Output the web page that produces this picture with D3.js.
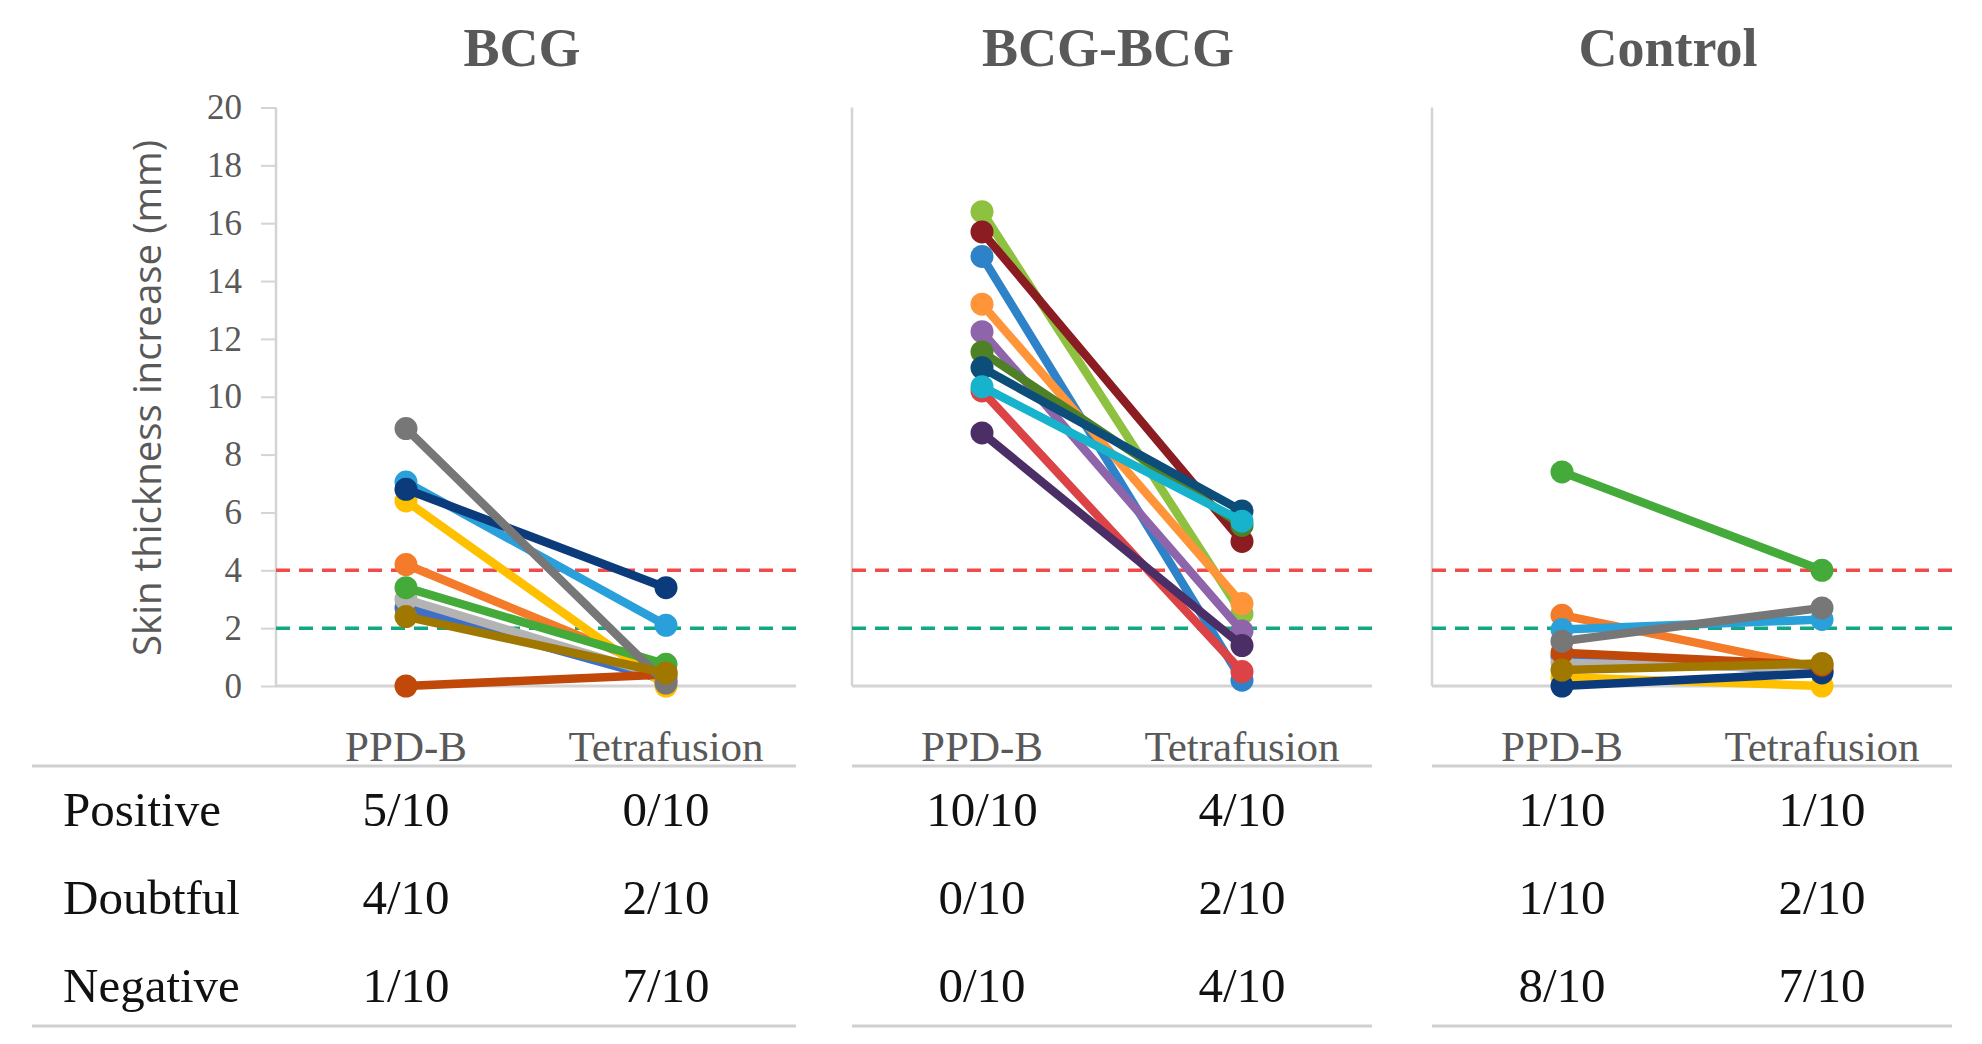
<!DOCTYPE html>
<html>
<head>
<meta charset="utf-8">
<script src="https://cdn.jsdelivr.net/npm/d3@7"></script>
<style>
  body { margin: 0; background: #fff; }
  svg { display: block; }
</style>
</head>
<body>
<div id="chart"></div>
<script>
(function(){
  // Groups, x categories and table row labels.
  const groups = ['BCG', 'BCG-BCG', 'Control'];
  const categories = ['PPD-B', 'Tetrafusion'];
  const tableRows = ['Positive', 'Doubtful', 'Negative'];
  const yTicks = [0, 2, 4, 6, 8, 10, 12, 14, 16, 18, 20];
  const positiveCut = 4;
  const doubtfulCut = 2;

  // BCG group: one animal per entry, PPD-B and Tetrafusion readings (mm).
  const bcgPpd    = [2.7, 4.2, 3.0, 6.4, 7.05, 3.4, 6.8, 0.0, 8.9, 2.4];
  const bcgTetra  = [0.2, 0.5, 0.3, 0.0, 2.1, 0.75, 3.4, 0.4, 0.1, 0.45];
  const bcgColors = ['#3f6fc6', '#f47b2a', '#b3b3b3', '#ffc000', '#2aa0da', '#44aa3a', '#0b3b7a', '#c0490a', '#777777', '#a07800'];

  // BCG-BCG group.
  const boostPpd    = [16.4, 15.7, 14.85, 10.2, 13.2, 12.25, 11.55, 11.0, 10.35, 8.75];
  const boostTetra  = [2.5, 5.0, 0.2, 0.5, 2.85, 1.9, 5.55, 6.05, 5.7, 1.4];
  const boostColors = ['#8dc13f', '#8a1c22', '#2e83c8', '#db4346', '#ff9438', '#8e64aa', '#4e8026', '#0c4d7a', '#17b3cd', '#4b2e66'];

  // Control group.
  const ctrlPpd    = [1.0, 2.45, 0.8, 0.3, 1.95, 7.4, 0.0, 1.15, 1.55, 0.55];
  const ctrlTetra  = [0.5, 0.6, 0.6, 0.0, 2.3, 4.0, 0.45, 0.72, 2.7, 0.78];
  const ctrlColors = bcgColors;

  // Summary table, one [PPD-B, Tetrafusion] pair per row.
  const bcgTable   = [['5/10', '0/10'], ['4/10', '2/10'], ['1/10', '7/10']];
  const boostTable = [['10/10', '4/10'], ['0/10', '2/10'], ['0/10', '4/10']];
  const ctrlTable  = [['1/10', '1/10'], ['1/10', '2/10'], ['8/10', '7/10']];

  const panels = [
    {title: groups[0], ppd: bcgPpd, tetra: bcgTetra, colors: bcgColors, table: bcgTable},
    {title: groups[1], ppd: boostPpd, tetra: boostTetra, colors: boostColors, table: boostTable},
    {title: groups[2], ppd: ctrlPpd, tetra: ctrlTetra, colors: ctrlColors, table: ctrlTable}
  ];

  const width = 1982, height = 1044;
  const serif = '"Liberation Serif", "DejaVu Serif", serif';
  const grey = '#595959';
  const axisGrey = '#d4d4d4';

  const svg = d3.select('#chart').append('svg')
    .attr('width', width).attr('height', height);

  // Layout of the three small multiples.
  const panelStarts = [276, 852, 1432];
  const panelWidth = 520;
  const titleX = [522, 1108, 1668];
  const plotTop = 107.5, plotBottom = 686;
  const rowY = [809, 897, 985];

  const y = d3.scaleLinear().domain([0, 20]).range([plotBottom, plotTop]);
  const x = d3.scalePoint().domain(categories).range([0, panelWidth]).padding(0.5);

  // Y axis with ticks only on the first panel.
  const yAxis = svg.append('g')
    .attr('transform', `translate(${panelStarts[0]},0)`)
    .call(d3.axisLeft(y).tickValues(yTicks).tickSize(15).tickPadding(19));
  yAxis.select('.domain').remove();
  yAxis.selectAll('.tick line').attr('stroke', axisGrey).attr('stroke-width', 2);
  yAxis.selectAll('.tick text')
    .attr('fill', grey)
    .style('font-family', serif)
    .style('font-size', '35px');

  svg.append('text')
    .attr('transform', `translate(148,398) rotate(-90)`)
    .attr('text-anchor', 'middle')
    .attr('dy', '0.35em')
    .attr('fill', grey)
    .attr('textLength', 516)
    .attr('lengthAdjust', 'spacingAndGlyphs')
    .style('font-family', '"Open Sans", "Noto Sans", sans-serif')
    .style('font-size', '38px')
    .text('Skin thickness increase (mm)');

  panels.forEach((p, i) => {
    const g = svg.append('g').attr('transform', `translate(${panelStarts[i]},0)`);

    // Axis frame: vertical line and baseline.
    g.append('line')
      .attr('x1', 0).attr('x2', 0)
      .attr('y1', y(20)).attr('y2', y(0))
      .attr('stroke', axisGrey).attr('stroke-width', 2.5);
    g.append('line')
      .attr('x1', 0).attr('x2', panelWidth)
      .attr('y1', y(0)).attr('y2', y(0))
      .attr('stroke', axisGrey).attr('stroke-width', 3);

    // Positive / doubtful cut-off lines.
    [[positiveCut, '#f04a4a'], [doubtfulCut, '#12a883']].forEach(([v, c]) => {
      g.append('line')
        .attr('x1', 0).attr('x2', panelWidth)
        .attr('y1', y(v)).attr('y2', y(v))
        .attr('stroke', c).attr('stroke-width', 3.5)
        .attr('stroke-dasharray', '14,9');
    });

    // Paired readings per animal.
    const rows = p.ppd.map((v, k) => ({a: v, b: p.tetra[k], color: p.colors[k]}));
    const series = g.selectAll('g.series').data(rows).join('g').attr('class', 'series');
    series.append('line')
      .attr('x1', x(categories[0])).attr('x2', x(categories[1]))
      .attr('y1', d => y(d.a)).attr('y2', d => y(d.b))
      .attr('stroke', d => d.color).attr('stroke-width', 8.5)
      .attr('stroke-linecap', 'round');
    series.append('circle')
      .attr('cx', x(categories[0])).attr('cy', d => y(d.a))
      .attr('r', 11.5).attr('fill', d => d.color);
    series.append('circle')
      .attr('cx', x(categories[1])).attr('cy', d => y(d.b))
      .attr('r', 11.5).attr('fill', d => d.color);

    // Panel title.
    svg.append('text')
      .attr('x', titleX[i]).attr('y', 47)
      .attr('dy', '0.35em')
      .attr('text-anchor', 'middle')
      .attr('fill', grey)
      .style('font-family', serif)
      .style('font-weight', 'bold')
      .style('font-size', '54px')
      .text(p.title);

    // Category labels.
    g.selectAll('text.cat').data(categories).join('text')
      .attr('class', 'cat')
      .attr('x', d => x(d)).attr('y', 746)
      .attr('dy', '0.35em')
      .attr('text-anchor', 'middle')
      .attr('fill', grey)
      .style('font-family', serif)
      .style('font-size', '43px')
      .text(d => d);

    // Table rules.
    const ruleStart = i === 0 ? 32 - panelStarts[0] : 0;
    [766, 1026].forEach(ry => {
      g.append('line')
        .attr('x1', ruleStart).attr('x2', panelWidth)
        .attr('y1', ry).attr('y2', ry)
        .attr('stroke', '#cfcfcf').attr('stroke-width', 3);
    });

    // Table values.
    p.table.forEach((pair, r) => {
      pair.forEach((txt, c) => {
        g.append('text')
          .attr('x', x(categories[c])).attr('y', rowY[r])
          .attr('dy', '0.35em')
          .attr('text-anchor', 'middle')
          .attr('fill', '#111')
          .style('font-family', serif)
          .style('font-size', '49px')
          .text(txt);
      });
    });
  });

  // Row labels of the table.
  svg.selectAll('text.rowlabel').data(tableRows).join('text')
    .attr('class', 'rowlabel')
    .attr('x', 63).attr('y', (d, i) => rowY[i])
    .attr('dy', '0.35em')
    .attr('fill', '#111')
    .style('font-family', serif)
    .style('font-size', '49px')
    .text(d => d);
})();
</script>
</body>
</html>
